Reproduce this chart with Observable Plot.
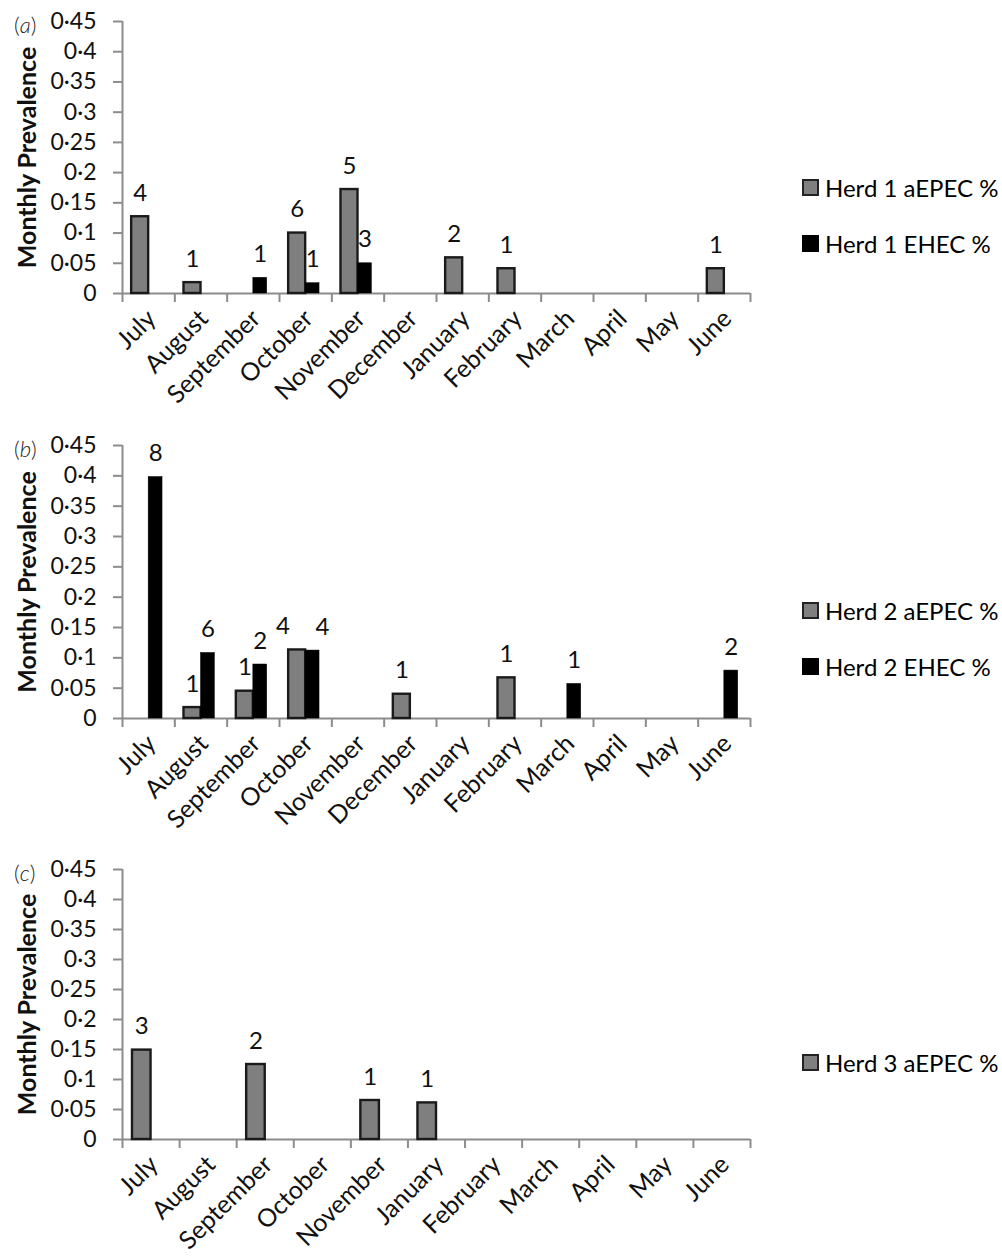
<!DOCTYPE html>
<html><head><meta charset="utf-8">
<script src="https://cdn.jsdelivr.net/npm/d3@7"></script>
<script src="https://cdn.jsdelivr.net/npm/@observablehq/plot@0.6"></script>
<style>
body{margin:0;background:#fff;font-family:Lato,"Open Sans",sans-serif;}
#root{position:relative;width:1002px;height:1256px;overflow:hidden;}
.panel{position:absolute;left:0;width:1002px;}
.tag{position:absolute;left:14px;top:14px;font-size:22px;line-height:1;color:#222;font-weight:300;}
.item{position:absolute;left:802px;height:26px;display:flex;align-items:center;font-size:24px;color:#000;white-space:nowrap;}
.sw{width:13px;height:13px;border:2px solid #222;margin-right:6px;box-sizing:content-box;}
</style></head>
<body><div id="root"></div>
<script>
const months = ["July","August","September","October","November","December","January","February","March","April","May","June"];
const monthsC = ["July","August","September","October","November","January","February","March","April","May","June"];
const yTicks = [0,0.05,0.1,0.15,0.2,0.25,0.3,0.35,0.4,0.45];

// Herd 1
const herd1aEPEC  = [0.127,0.018,0,0.100,0.172,0,0.059,0.041,0,0,0,0.041];
const herd1aEPECn = [4,1,null,6,5,null,2,1,null,null,null,1];
const herd1EHEC   = [0,0,0.026,0.017,0.050,0,0,0,0,0,0,0];
const herd1EHECn  = [null,null,1,1,3,null,null,null,null,null,null,null];
// Herd 2
const herd2aEPEC  = [0,0.018,0.045,0.113,0,0.040,0,0.067,0,0,0,0];
const herd2aEPECn = [null,1,1,4,null,1,null,1,null,null,null,null];
const herd2EHEC   = [0.398,0.108,0.089,0.112,0,0,0,0,0.057,0,0,0.079];
const herd2EHECn  = [8,6,2,4,null,null,null,null,1,null,null,2];
// Herd 3
const herd3aEPEC  = [0.149,0,0.125,0,0.065,0.061,0,0,0,0,0];
const herd3aEPECn = [3,null,2,null,1,1,null,null,null,null,null];

const axisColor = "#8c8c8c";
const fmt = v => v === 0 ? "0" : d3.format(".2~f")(v).replace(".", "·");
const slots = {aEPEC: [0.175, 0.5], EHEC: [0.5, 0.765]};
const nudge = {aEPEC: -0.27, EHEC: 0.19}; // spread labels apart when two neighbouring labels would collide
const styles = {aEPEC: {fill: "#7f7f7f", stroke: "#1a1a1a", strokeWidth: 2.4}, EHEC: {fill: "#000", stroke: "#000", strokeWidth: 0.5}};

function makePanel({cats, series, height, marginBottom}) {
  const n = cats.length;
  const marks = [];
  const labels = [];
  series.forEach((s, k) => {
    const other = series[1 - k];
    const rows = s.values.map((v, i) => {
      const ov = other ? other.values[i] : 0;
      const clash = ov > 0 && Math.abs(ov - v) < 0.03;
      return {i, v, c: s.counts[i], shift: clash ? nudge[s.key] : 0};
    }).filter(d => d.v > 0);
    const [a, b] = slots[s.key];
    marks.push(Plot.rectY(rows, {x1: d => d.i + a, x2: d => d.i + b, y1: 0, y2: d => d.v, ...styles[s.key]}));
    labels.push(Plot.text(rows, {x: d => d.i + (a + b) / 2 + d.shift, y: d => d.v, text: d => String(d.c), lineAnchor: "bottom", dy: -16, fontSize: 24, fill: "#111"}));
  });
  return Plot.plot({
    width: 780, height, marginLeft: 122, marginRight: 30, marginTop: 21, marginBottom,
    style: {fontFamily: "Lato, 'Open Sans', sans-serif", background: "#fff"},
    x: {domain: [0, n], axis: null},
    y: {domain: [0, 0.45], axis: null},
    marks: [
      Plot.axisY({ticks: yTicks, tickFormat: fmt, tickSize: 9, tickPadding: 17, stroke: axisColor, strokeWidth: 2, fill: "#111", fontSize: 23, label: null}),
      Plot.axisX({ticks: d3.range(n + 1), tickFormat: () => "", tickSize: 9, stroke: axisColor, strokeWidth: 2, label: null}),
      Plot.axisX({ticks: d3.range(n).map(i => i + 0.5), tickFormat: v => cats[Math.floor(v)], tickSize: 0, tickPadding: 21, dx: 3, tickRotate: -45, fontSize: 25, fill: "#111", label: null}),
      Plot.ruleY([0], {stroke: axisColor, strokeWidth: 2}),
      Plot.ruleX([0], {y1: 0, y2: 0.45, stroke: axisColor, strokeWidth: 2}),
      Plot.text(["Monthly Prevalence"], {text: d => d, frameAnchor: "left", rotate: -90, dx: -95, fontWeight: "bold", fontSize: 25, textAnchor: "middle", lineAnchor: "middle", fill: "#111"}),
      ...marks,
      ...labels
    ]
  });
}

const panels = [
  {tag: "a", top: 0, height: 424, marginBottom: 131, cats: months,
   series: [{key: "aEPEC", values: herd1aEPEC, counts: herd1aEPECn, name: "Herd 1 aEPEC %"},
            {key: "EHEC", values: herd1EHEC, counts: herd1EHECn, name: "Herd 1 EHEC %"}],
   legendTops: [174, 230]},
  {tag: "b", top: 424, height: 424, marginBottom: 130, cats: months,
   series: [{key: "aEPEC", values: herd2aEPEC, counts: herd2aEPECn, name: "Herd 2 aEPEC %"},
            {key: "EHEC", values: herd2EHEC, counts: herd2EHECn, name: "Herd 2 EHEC %"}],
   legendTops: [173, 229]},
  {tag: "c", top: 848, height: 408, marginBottom: 117, cats: monthsC,
   series: [{key: "aEPEC", values: herd3aEPEC, counts: herd3aEPECn, name: "Herd 3 aEPEC %"}],
   legendTops: [201]}
];

const root = document.getElementById("root");
panels.forEach(p => {
  const div = document.createElement("div");
  div.className = "panel";
  div.style.top = p.top + "px";
  div.style.height = p.height + "px";
  div.appendChild(makePanel(p));
  const tag = document.createElement("div");
  tag.className = "tag";
  tag.innerHTML = "(<i>" + p.tag + "</i>)";
  div.appendChild(tag);
  p.series.forEach((s, k) => {
    const it = document.createElement("div");
    it.className = "item";
    it.style.top = p.legendTops[k] + "px";
    const sw = document.createElement("span");
    sw.className = "sw";
    sw.style.background = styles[s.key].fill;
    sw.style.borderColor = s.key === "EHEC" ? "#000" : "#222";
    it.appendChild(sw);
    it.appendChild(document.createTextNode(s.name));
    div.appendChild(it);
  });
  root.appendChild(div);
});
</script></body></html>
